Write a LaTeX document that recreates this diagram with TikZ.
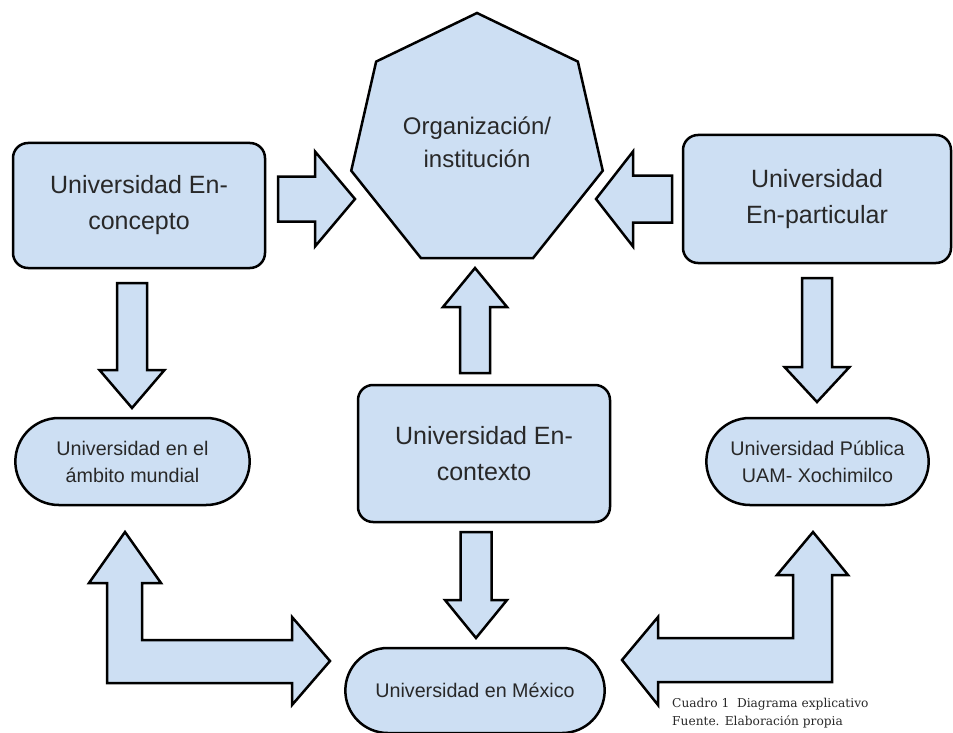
\documentclass[tikz,border=0pt]{standalone}
\usepackage{fontspec}
\setmainfont{Liberation Sans}
\newfontfamily\captionserif{DejaVu Serif}
\usetikzlibrary{shapes.geometric,shapes.misc,calc}

\definecolor{boxblue}{RGB}{205,223,243}
\definecolor{inkgray}{RGB}{40,40,40}

\tikzset{
  block/.style={draw, fill=boxblue, line width=2.5pt, text=inkgray, align=center},
  bigbox/.style={block, rectangle, rounded corners=15pt, font=\fontsize{25}{36}\selectfont},
  pill/.style={block, rounded rectangle, font=\fontsize{19.7}{27}\selectfont},
  fat/.style={draw, fill=boxblue, line width=2.5pt, line join=miter},
}

% block arrow: tail, tip, shaft half width, head half width, head length
\newcommand\fatarrow[5]{%
  \coordinate (fb) at ($(#2)!#5!(#1)$);
  \draw[fat] ($(#1)!#3!90:(#2)$) -- ($(fb)!#3!-90:(#1)$) -- ($(fb)!#4!-90:(#1)$)
    -- (#2) -- ($(fb)!#4!90:(#1)$) -- ($(fb)!#3!90:(#1)$) -- ($(#1)!#3!-90:(#2)$) -- cycle;
}

\begin{document}
\begin{tikzpicture}[x=1pt, y=-1pt]
\useasboundingbox (0,0) rectangle (953,733);

% The boxes
\node[block, regular polygon, regular polygon sides=7, minimum size=258pt, inner sep=0pt,
  font=\fontsize{24}{33}\selectfont] (org) at (477,142) {Organización/\\institución};
\node[bigbox, minimum width=252pt, minimum height=125pt] (concepto) at (139,205.5) {Universidad En-\\concepto};
\node[bigbox, minimum width=268pt, minimum height=128pt] (particular) at (817,199) {Universidad\\En-particular};
\node[bigbox, minimum width=252pt, minimum height=137pt] (contexto) at (484,453.5) {Universidad En-\\contexto};
\node[pill, minimum width=241pt, minimum height=87pt] (mundial) at (132.5,461.5) {Universidad en el\\ámbito mundial};
\node[pill, minimum width=229pt, minimum height=87pt] (publica) at (817.5,461.5) {Universidad Pública\\UAM- Xochimilco};
\node[pill, minimum width=266pt, minimum height=85pt] (mexico) at (475,690.5) {Universidad en México};

% Arrow ends
\coordinate (conceptoR) at (278,199);  \coordinate (orgL) at (355,199);
\coordinate (particularL) at (672,199); \coordinate (orgR) at (596,199);
\coordinate (conceptoB) at (132,283);  \coordinate (mundialT) at (132,408);
\coordinate (particularB) at (817,278); \coordinate (publicaT) at (817,402);
\coordinate (contextoT) at (475,373);  \coordinate (orgB) at (475,268);
\coordinate (contextoB) at (476,532);  \coordinate (mexicoT) at (476,638);

\fatarrow{conceptoR}{orgL}{22.5pt}{47.5pt}{40pt}
\fatarrow{particularL}{orgR}{23.5pt}{47.5pt}{37pt}
\fatarrow{conceptoB}{mundialT}{15pt}{32.5pt}{38pt}
\fatarrow{particularB}{publicaT}{15pt}{32.5pt}{35pt}
\fatarrow{contextoT}{orgB}{15pt}{32pt}{39pt}
\fatarrow{contextoB}{mexicoT}{15.5pt}{31pt}{38pt}

% Bent arrows to the bottom
\draw[fat] (125,532) -- (161,583) -- (142,583) -- (142,640) -- (292,640) -- (292,617)
  -- (330,661) -- (292,705) -- (292,683) -- (107,683) -- (107,583) -- (89,583) -- cycle;
\draw[fat] (622,660) -- (658,617) -- (658,638) -- (793,638) -- (793,575) -- (777,575)
  -- (813,532) -- (848,575) -- (832,575) -- (832,682) -- (658,682) -- (658,705) -- cycle;

% Caption
\node[anchor=north west, inner sep=0pt, align=left, text=inkgray,
  font=\captionserif\fontsize{12.2}{18}\selectfont] (cuadro) at (672,698)
  {Cuadro 1\ \ Diagrama explicativo\\Fuente. Elaboración propia};
\end{tikzpicture}
\end{document}
